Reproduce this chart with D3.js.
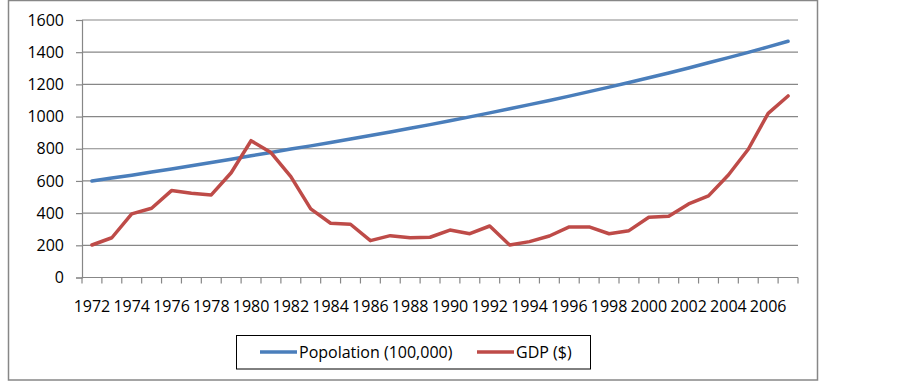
<!DOCTYPE html>
<html>
<head>
<meta charset="utf-8">
<script src="https://cdn.jsdelivr.net/npm/d3@7"></script>
<style>
  body { margin: 0; background: #fff; }
  svg { display: block; font-family: "Open Sans", sans-serif; }
</style>
</head>
<body>
<svg id="svg" width="902" height="383"></svg>
<script>
// data
var years = [1972, 1973, 1974, 1975, 1976, 1977, 1978, 1979, 1980, 1981, 1982, 1983,
  1984, 1985, 1986, 1987, 1988, 1989, 1990, 1991, 1992, 1993, 1994, 1995,
  1996, 1997, 1998, 1999, 2000, 2001, 2002, 2003, 2004, 2005, 2006, 2007];
var population = [600, 618, 636, 655, 674, 694, 714, 735, 756, 777, 798, 818,
  839, 860, 882, 904, 927, 950, 974, 998, 1023, 1048, 1074, 1100,
  1127, 1155, 1183, 1212, 1241, 1271, 1302, 1334, 1366, 1399, 1433, 1468];
var gdp = [202, 247, 395, 430, 540, 523, 513, 651, 850, 776, 627, 426,
  337, 331, 229, 260, 247, 250, 295, 272, 320, 202, 223, 258,
  314, 314, 272, 291, 374, 380, 457, 507, 637, 797, 1020, 1128];
var yTicks = [0, 200, 400, 600, 800, 1000, 1200, 1400, 1600];
var xLabels = years.filter(function(y) { return y % 2 === 0; });
var seriesNames = ["Popolation (100,000)", "GDP ($)"];
var seriesColors = ["#4a7ebb", "#be4b48"];

var svg = d3.select("#svg");
var grey = "#878787";
var fontSize = "16px";

// outer chart frame
svg.append("rect")
  .attr("x", 8.5).attr("y", 0.5)
  .attr("width", 809).attr("height", 379.5)
  .attr("fill", "none")
  .attr("stroke", grey)
  .attr("stroke-width", 1.5);

var x = d3.scaleBand().domain(years).range([82, 798]).padding(0);
var y = d3.scaleLinear().domain([0, 1600]).range([277.5, 20]);
var cx = function(d, i) { return x(years[i]) + x.bandwidth() / 2; };

// gridlines
svg.append("g").selectAll("line")
  .data(yTicks.slice(1))
  .enter().append("line")
  .attr("x1", 82).attr("x2", 798)
  .attr("y1", function(d) { return y(d); })
  .attr("y2", function(d) { return y(d); })
  .attr("stroke", grey)
  .attr("stroke-width", 1.2);

// y axis
var yAxis = svg.append("g")
  .attr("transform", "translate(82,0)")
  .call(d3.axisLeft(y).tickValues(yTicks).tickFormat(d3.format("d"))
    .tickSize(6).tickPadding(12));
yAxis.select(".domain").attr("stroke", grey).attr("stroke-width", 1.2);
yAxis.selectAll(".tick line").attr("stroke", grey).attr("stroke-width", 1.2);
yAxis.selectAll("text")
  .attr("font-size", fontSize)
  .attr("fill", "#000")
  .attr("font-family", "Open Sans, sans-serif");

// x axis: line, ticks between categories, labels every other year
var xAxis = svg.append("g").attr("transform", "translate(0,277.5)");
xAxis.append("line")
  .attr("x1", 82).attr("x2", 798)
  .attr("stroke", grey).attr("stroke-width", 1.2);
var bounds = years.map(function(d) { return x(d); }).concat([x.range()[1]]);
xAxis.selectAll(".xtick")
  .data(bounds)
  .enter().append("line")
  .attr("class", "xtick")
  .attr("x1", function(d) { return d; })
  .attr("x2", function(d) { return d; })
  .attr("y1", 0).attr("y2", 6)
  .attr("stroke", grey).attr("stroke-width", 1.2);
xAxis.selectAll(".xlabel")
  .data(xLabels)
  .enter().append("text")
  .attr("class", "xlabel")
  .attr("x", function(d) { return x(d) + x.bandwidth() / 2; })
  .attr("y", 34.5)
  .attr("text-anchor", "middle")
  .attr("font-size", fontSize)
  .text(function(d) { return d; });

// series lines
var line = d3.line()
  .x(cx)
  .y(function(d) { return y(d); });

[population, gdp].forEach(function(values, i) {
  svg.append("path")
    .datum(values)
    .attr("d", line)
    .attr("fill", "none")
    .attr("stroke", seriesColors[i])
    .attr("stroke-width", 3.5)
    .attr("stroke-linejoin", "round")
    .attr("stroke-linecap", "round");
});

// legend
var legend = svg.append("g");
legend.append("rect")
  .attr("x", 236.5).attr("y", 335.5)
  .attr("width", 354).attr("height", 33.5)
  .attr("fill", "#fff")
  .attr("stroke", "#000")
  .attr("stroke-width", 1);
var legendX = [260, 477];
seriesNames.forEach(function(name, i) {
  legend.append("line")
    .attr("x1", legendX[i]).attr("x2", legendX[i] + 37)
    .attr("y1", 352).attr("y2", 352)
    .attr("stroke", seriesColors[i])
    .attr("stroke-width", 3.5);
  legend.append("text")
    .attr("x", legendX[i] + 39)
    .attr("y", 357.5)
    .attr("font-size", fontSize)
    .text(name);
});
</script>
</body>
</html>
